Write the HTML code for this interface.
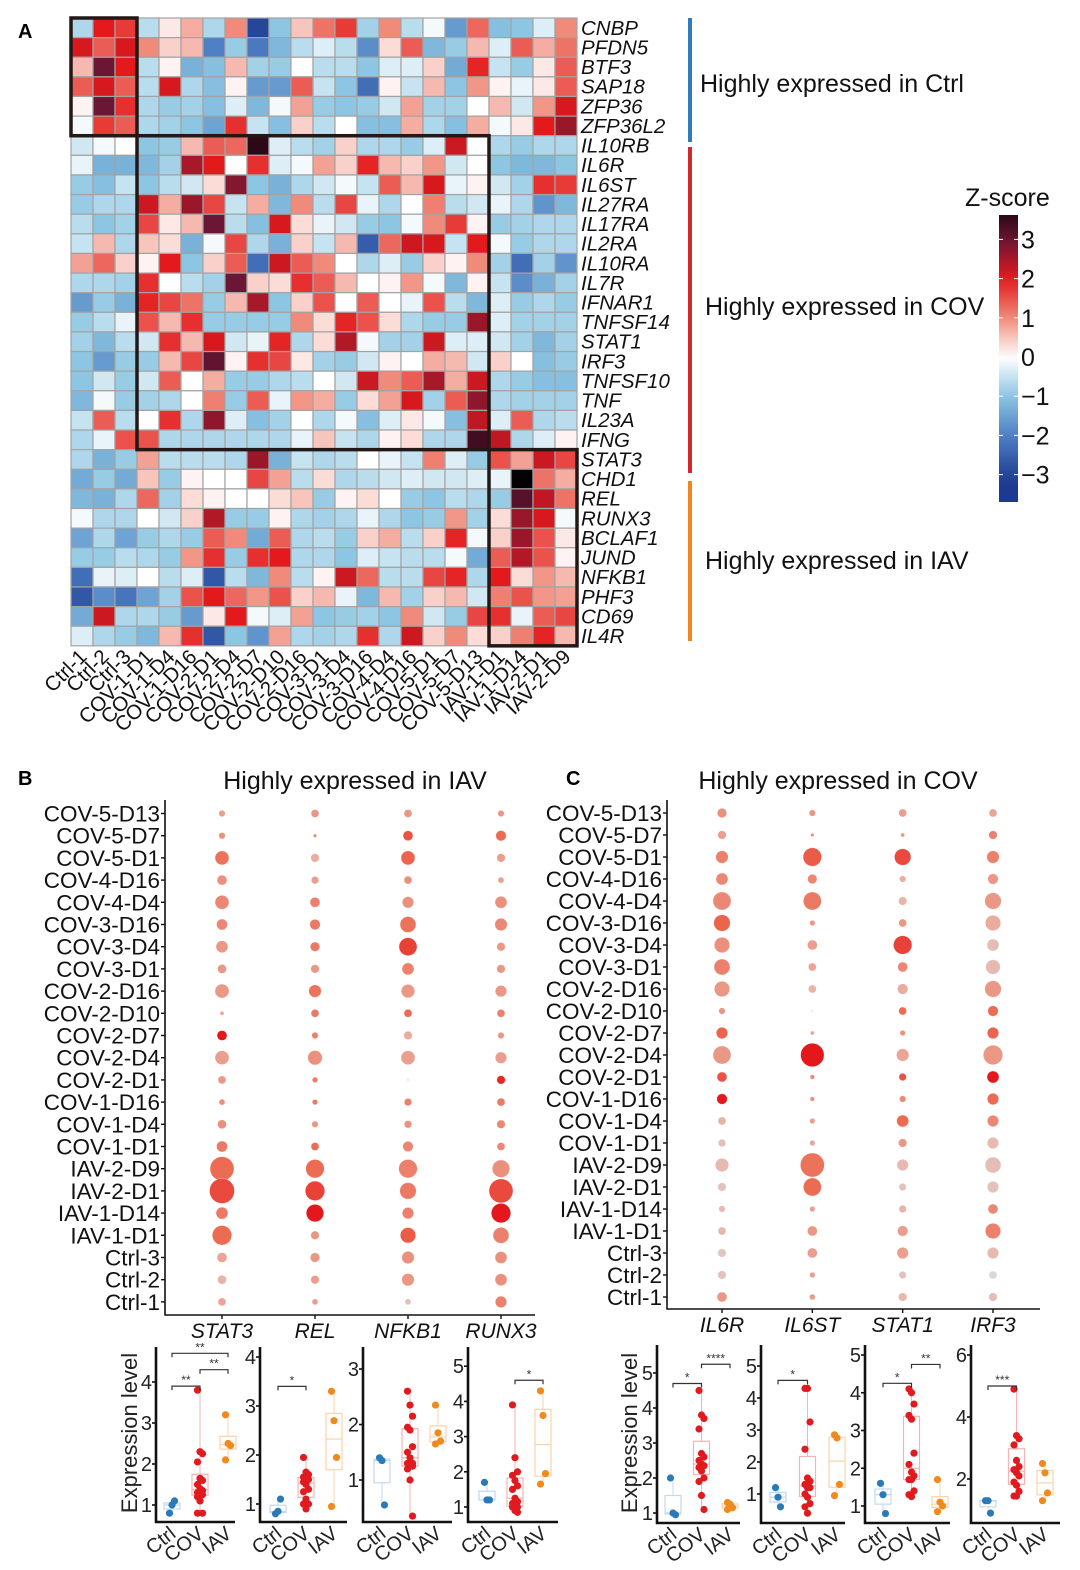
<!DOCTYPE html>
<html><head><meta charset="utf-8"><style>
html,body{margin:0;padding:0;background:#fff;}
svg{display:block;font-family:"Liberation Sans",Arial,sans-serif;}
</style></head><body>
<svg id="fig" width="1080" height="1570" viewBox="0 0 1080 1570" xmlns="http://www.w3.org/2000/svg">
<text x="18" y="38" font-size="20" font-weight="bold">A</text>
<text x="18" y="785" font-size="20" font-weight="bold">B</text>
<text x="566" y="785" font-size="20" font-weight="bold">C</text>
</svg>
<script>
// ---------- Heatmap data ----------
const genes=["CNBP","PFDN5","BTF3","SAP18","ZFP36","ZFP36L2","IL10RB","IL6R","IL6ST","IL27RA","IL17RA","IL2RA","IL10RA","IL7R","IFNAR1","TNFSF14","STAT1","IRF3","TNFSF10","TNF","IL23A","IFNG","STAT3","CHD1","REL","RUNX3","BCLAF1","JUND","NFKB1","PHF3","CD69","IL4R"];
const samples=["Ctrl-1","Ctrl-2","Ctrl-3","COV-1-D1","COV-1-D4","COV-1-D16","COV-2-D1","COV-2-D4","COV-2-D7","COV-2-D10","COV-2-D16","COV-3-D1","COV-3-D4","COV-3-D16","COV-4-D4","COV-4-D16","COV-5-D1","COV-5-D7","COV-5-D13","IAV-1-D1","IAV-1-D14","IAV-2-D1","IAV-2-D9"];
const zvals=[
[-0.7,2.0,1.7,-0.6,0.2,0.7,-0.7,1.0,-3.0,-1.0,0.5,1.2,1.7,-0.8,1.0,-0.6,-0.1,-1.6,1.3,-1.1,-1.0,-0.3,1.0],
[2.1,1.4,2.1,1.0,0.4,0.6,-2.0,-0.9,-2.1,-1.2,-0.6,-0.3,-0.6,-1.8,0.3,1.4,-1.2,-0.9,0.6,-0.3,1.4,0.7,1.2],
[0.6,3.0,2.0,-0.6,0.1,-1.3,-1.1,0.6,-0.8,-0.9,0.0,-0.6,-0.6,-1.0,-0.3,-0.3,0.4,-1.4,1.9,-0.5,-0.9,0.2,1.4],
[1.4,2.1,1.4,-0.6,2.1,-0.7,-1.1,0.1,-1.6,-1.6,1.4,-0.5,-1.0,-2.3,0.1,-0.5,0.6,-1.0,0.9,0.1,-0.2,0.2,1.4],
[0.1,3.0,1.8,-0.7,-0.9,-0.8,-1.1,-0.3,-1.2,-0.1,0.8,-0.9,-1.0,-0.9,-0.4,0.8,-0.8,-0.8,0.0,0.6,-0.4,0.9,2.1],
[-0.1,1.7,1.4,-0.7,-0.8,-1.0,-1.5,1.8,-0.5,-1.1,0.4,-0.6,0.0,-1.1,-1.1,0.7,-0.7,-1.1,0.7,-0.1,0.2,2.0,2.6],
[-0.4,-0.1,0.0,-1.0,-0.9,0.6,1.4,1.3,3.6,-0.3,-0.6,-0.8,0.4,-0.7,-0.7,-0.9,-0.3,2.2,0.0,-0.7,-0.9,-0.7,-0.7],
[-0.2,-1.3,-1.3,-1.2,-0.8,2.5,2.0,0.0,1.8,-0.3,-0.1,0.8,0.4,1.9,0.6,0.4,0.9,-0.4,0.0,-1.0,-1.2,-1.2,-1.0],
[-0.9,-1.1,-0.5,-1.0,-0.6,-0.4,0.3,2.8,-1.0,-1.3,-0.7,-0.4,-0.1,-0.5,1.4,0.6,2.1,-0.2,0.1,-0.4,-0.8,1.8,1.7],
[-0.9,-0.7,-0.7,2.2,0.7,2.6,1.6,-0.5,0.7,-1.2,1.0,-0.6,1.6,-0.2,-0.7,0.0,1.1,-0.6,-0.4,-0.2,-0.7,-1.7,-1.2],
[-0.6,-1.0,-0.8,1.6,0.2,0.6,3.0,-0.6,-1.1,2.1,0.3,-0.2,-0.4,-0.9,-1.0,-0.1,1.0,1.7,0.1,-0.9,-0.8,-0.7,-0.7],
[-0.5,0.6,-0.7,0.5,0.3,-1.3,-0.1,1.6,-0.7,-1.3,0.4,-0.5,0.6,-2.6,1.3,2.2,2.1,-0.5,2.0,-0.1,-0.9,-0.7,-0.7],
[0.8,1.3,0.4,0.1,2.0,-1.0,0.4,1.4,-2.3,2.2,1.4,1.0,0.0,-0.7,-0.3,-0.9,0.4,0.1,1.0,-0.8,-2.3,-0.8,-1.7],
[-0.7,-0.7,-0.8,1.8,0.0,-0.6,-0.8,3.0,0.4,0.3,1.8,1.4,0.6,0.0,0.1,0.9,-0.1,-1.2,0.1,-0.5,-1.8,-1.3,-0.8],
[-1.6,-0.9,-1.3,1.9,1.6,1.2,-0.9,0.6,2.5,-1.0,0.4,1.5,0.0,1.4,0.0,-0.2,1.5,-0.6,-1.2,-0.3,-0.9,-0.7,-0.9],
[-0.9,-0.6,-0.2,1.5,0.6,1.8,-0.9,-0.9,-0.9,-0.9,1.0,0.3,1.9,1.5,0.3,-0.7,-0.9,-0.9,2.6,-0.3,-0.8,-0.8,-0.8],
[-0.8,-1.2,-0.6,-0.4,1.8,0.6,2.1,-0.4,-0.2,1.9,-0.7,0.3,2.4,-0.1,-0.8,-0.8,2.2,-0.3,-0.3,-0.4,-0.8,-1.2,-0.8],
[-1.0,-1.6,-0.9,-0.9,0.6,1.6,3.1,0.1,1.8,1.6,0.2,-0.8,-0.9,-0.4,0.1,0.0,0.7,0.6,-0.4,0.4,0.0,-1.1,-0.9],
[-1.0,-0.4,-0.9,-0.4,1.4,0.0,0.7,-0.9,-0.9,-0.7,-0.6,0.0,-0.4,2.2,1.0,1.4,2.5,0.7,2.2,-0.7,-0.9,-1.1,-1.1],
[-1.2,-0.1,-0.9,-0.8,-0.7,0.0,1.1,-0.9,1.4,-0.2,0.9,0.7,-0.9,0.3,0.8,2.1,-0.8,1.4,2.7,-0.7,-0.8,-0.8,-0.8],
[-0.5,1.4,-0.6,0.0,1.8,-0.7,2.7,-0.3,-1.1,-0.8,0.0,-0.7,-0.1,-1.1,-0.3,0.2,-0.1,-1.1,2.3,-0.3,1.4,-0.7,-0.6],
[-0.7,-0.2,1.5,1.5,-0.7,-0.7,-0.7,-0.7,-0.7,-0.7,-0.2,0.5,-0.5,-0.7,0.1,0.3,-0.7,-0.7,3.4,2.3,-0.7,-0.3,0.1],
[-0.7,-1.3,-0.9,0.8,-0.6,-0.6,-0.6,-0.7,2.6,-1.3,-0.5,-0.7,-0.6,0.0,-0.2,-0.5,1.1,-0.3,-0.9,1.5,0.8,2.2,1.6],
[-1.4,-0.9,-1.4,0.5,-0.9,0.1,0.0,0.0,1.6,0.8,-0.6,0.3,-0.7,-0.6,-0.4,-0.3,-0.4,-0.4,-0.3,-0.2,4.0,1.2,0.7],
[-1.2,-1.3,-0.7,1.3,-0.8,0.3,0.1,0.0,0.0,0.3,0.5,-0.9,0.1,0.3,0.0,-0.9,-1.0,-0.6,-0.7,-0.9,3.2,2.3,1.2],
[-0.1,-0.7,-0.7,0.0,-0.4,0.4,2.4,-0.9,-0.9,0.1,-0.7,-0.8,-0.7,-0.2,-0.7,-1.0,-0.9,0.9,-0.8,0.3,2.6,2.1,-0.1],
[-1.5,-0.7,-1.5,-0.9,-0.7,-0.9,1.4,1.0,-1.4,1.4,-0.7,-0.6,-0.9,0.4,0.7,-0.6,0.4,1.9,-0.1,0.4,2.6,1.5,0.2],
[-0.9,-0.9,-0.6,-0.7,-0.9,0.9,1.8,-0.9,1.8,2.0,-0.7,-0.7,-1.0,-0.3,-0.5,-0.6,-0.6,-0.1,-1.4,1.4,2.4,1.5,0.1],
[-2.3,-0.2,-0.3,0.0,-0.6,-0.3,-2.7,-0.6,-1.2,1.0,-0.6,0.1,2.2,1.3,-0.6,-0.6,1.6,1.9,-0.7,2.0,0.3,0.9,0.6],
[-2.7,-1.8,-2.2,-1.5,-0.8,1.5,2.0,1.3,0.9,1.5,0.4,0.6,-0.2,-1.2,0.6,-0.8,0.4,0.6,-0.4,1.1,1.5,0.9,0.8],
[-1.4,2.2,-0.7,-0.7,-0.9,-1.6,0.2,2.0,-0.1,-0.3,0.8,-1.0,-0.9,-0.8,-1.0,1.0,-0.4,-0.9,1.6,1.8,-0.2,1.4,1.6],
[-0.3,-0.7,-0.9,-1.2,0.6,1.8,-2.7,-1.0,-1.7,0.8,-0.7,-0.8,-0.7,1.8,-0.7,2.2,0.4,1.0,0.3,0.4,1.1,1.9,0.6]
];
const zTicks=[3,2,1,0,-1,-2,-3];
const zTickLabels=["3","2","1","0","\u22121","\u22122","\u22123"];
// ---------- Dot plot data (B and C) ----------
const dotRows=["COV-5-D13","COV-5-D7","COV-5-D1","COV-4-D16","COV-4-D4","COV-3-D16","COV-3-D4","COV-3-D1","COV-2-D16","COV-2-D10","COV-2-D7","COV-2-D4","COV-2-D1","COV-1-D16","COV-1-D4","COV-1-D1","IAV-2-D9","IAV-2-D1","IAV-1-D14","IAV-1-D1","Ctrl-3","Ctrl-2","Ctrl-1"];
const genesB=["STAT3","REL","NFKB1","RUNX3"];
const genesC=["IL6R","IL6ST","STAT1","IRF3"];
const pctB_STAT3=[26,26,56,40,56,44,48,36,56,16,40,56,32,24,36,44,96,100,48,78,40,36,32];
const avgB_STAT3=[0.3,0.5,0.9,0.5,0.6,0.6,0.4,0.4,0.4,0.2,2.0,0.3,0.4,0.5,0.5,0.8,1.0,1.4,0.8,1.0,0.2,0.0,0.2];
const pctB_REL=[32,14,34,30,40,42,38,34,50,32,26,58,22,22,26,32,74,78,70,34,38,34,24];
const avgB_REL=[0.4,0.6,0.1,0.3,0.7,0.8,0.8,0.4,0.9,0.8,0.7,0.5,0.8,0.8,0.4,1.0,1.0,1.5,2.0,0.4,0.4,0.3,0.3];
const pctB_NFKB1=[32,40,56,32,46,64,72,48,54,32,34,56,8,30,30,42,74,66,46,62,50,50,24];
const avgB_NFKB1=[0.4,1.3,1.1,0.5,0.5,0.9,1.5,0.7,0.4,1.0,0.1,0.3,-0.8,0.7,0.5,0.6,0.7,0.8,0.7,1.2,0.5,0.4,-0.3];
const pctB_RUNX3=[26,42,34,24,48,50,34,34,46,32,26,46,34,32,34,32,70,96,78,64,48,48,46];
const avgB_RUNX3=[0.4,1.0,0.3,0.3,0.5,0.6,0.4,0.4,0.4,0.7,0.4,0.3,1.8,0.8,0.6,0.6,0.5,1.4,2.0,0.7,0.5,0.5,0.7];
const pctC_IL6R=[38,34,50,48,72,66,62,64,62,26,46,72,40,42,32,30,54,34,26,32,34,34,40];
const avgC_IL6R=[0.5,0.3,0.7,0.6,0.6,1.1,0.5,0.7,0.4,0.4,1.1,0.4,1.3,2.0,0.0,-0.3,-0.2,-0.4,-0.2,-0.1,-0.5,-0.4,0.4];
const pctC_IL6ST=[26,14,74,38,72,22,40,32,32,6,16,94,18,18,22,22,96,72,22,40,40,22,24];
const avgC_IL6ST=[0.4,0.5,1.2,0.6,0.8,0.4,0.3,0.2,0.0,0.0,0.2,2.0,0.6,0.5,0.3,0.2,0.9,1.0,0.3,0.4,0.3,0.3,0.3];
const pctC_STAT1=[32,16,66,26,34,32,74,40,42,32,22,50,30,26,48,34,46,30,30,42,46,30,34];
const avgC_STAT1=[0.3,0.4,1.4,0.1,-0.1,0.4,1.5,0.6,0.1,1.0,0.5,0.2,1.3,0.6,1.0,0.4,-0.2,-0.4,0.0,0.3,0.3,-0.4,-0.1];
const pctC_IRF3=[32,34,50,42,66,62,48,58,66,42,46,78,48,46,46,46,64,46,40,62,46,32,34];
const avgC_IRF3=[0.2,0.7,0.7,0.4,0.4,0.1,-0.3,-0.2,0.4,1.0,1.1,0.4,2.0,1.0,0.6,-0.2,-0.3,-0.4,0.6,0.7,-0.2,-1.0,-0.3];
// ---------- Box plot data ----------
const boxGroups=["Ctrl","COV","IAV"];
const bx_STAT3_ctrl=[0.8,1.0,1.1];
const bx_STAT3_cov=[3.8,2.3,2.25,2.05,1.65,1.6,1.5,1.4,1.35,1.3,1.3,1.25,1.2,1.1,0.8,0.8];
const bx_STAT3_iav=[3.2,2.5,2.45,2.1];
const bx_REL_ctrl=[0.8,0.85,1.1];
const bx_REL_cov=[1.95,1.65,1.6,1.55,1.5,1.5,1.45,1.4,1.3,1.25,1.1,1.0,1.0,0.9];
const bx_REL_iav=[3.3,2.7,1.95,0.95];
const bx_NFKB1_ctrl=[1.4,1.35,0.55];
const bx_NFKB1_cov=[2.6,2.35,2.15,1.95,1.9,1.6,1.5,1.4,1.3,1.3,1.25,1.25,1.2,1.0,0.35];
const bx_NFKB1_iav=[2.35,1.85,1.7,1.65];
const bx_RUNX3_ctrl=[1.7,1.2,1.2];
const bx_RUNX3_cov=[3.9,2.4,2.0,1.9,1.75,1.6,1.5,1.25,1.15,1.1,1.05,1.0,1.0,0.9,0.85];
const bx_RUNX3_iav=[4.3,3.6,1.95,1.65];
const bx_IL6R_ctrl=[2.0,1.0,0.95];
const bx_IL6R_cov=[4.5,3.8,3.7,3.4,2.7,2.6,2.5,2.4,2.35,2.3,2.2,2.0,1.9,1.5,1.1];
const bx_IL6R_iav=[1.3,1.25,1.15,1.1];
const bx_IL6ST_ctrl=[1.2,0.9,0.6];
const bx_IL6ST_cov=[4.3,4.3,3.25,2.4,1.5,1.4,1.3,1.2,1.2,1.0,0.9,0.7,0.6,0.4];
const bx_IL6ST_iav=[2.85,2.75,1.3,0.95];
const bx_STAT1_ctrl=[1.6,1.3,0.8];
const bx_STAT1_cov=[4.1,4.0,3.7,3.4,3.3,2.4,2.1,1.9,1.8,1.7,1.7,1.4,1.3,1.25];
const bx_STAT1_iav=[1.7,1.1,1.0,0.85];
const bx_IRF3_ctrl=[1.3,1.3,0.9];
const bx_IRF3_cov=[4.9,3.4,3.3,3.1,2.6,2.4,2.3,2.2,2.1,1.9,1.8,1.6,1.45,1.45];
const bx_IRF3_iav=[2.5,2.2,1.55,1.3];
const ticks_STAT3=[1,2,3,4], ticks_REL=[1,2,3,4], ticks_NFKB1=[1,2,3], ticks_RUNX3=[1,2,3,4,5];
const ticks_IL6R=[1,2,3,4,5], ticks_IL6ST=[1,2,3,4,5], ticks_STAT1=[1,2,3,4,5], ticks_IRF3=[2,4,6];
const sig_STAT3=[[0,1,3.9,"**"],[1,2,4.3,"**"],[0,2,4.7,"**"]];
const sig_REL=[[0,1,3.4,"*"]];
const sig_NFKB1=[];
const sig_RUNX3=[[1,2,4.6,"*"]];
const sig_IL6R=[[0,1,4.7,"*"],[1,2,5.25,"****"]];
const sig_IL6ST=[[0,1,4.55,"*"]];
const sig_STAT1=[[0,1,4.25,"*"],[1,2,4.75,"**"]];
const sig_IRF3=[[0,1,5.0,"***"]];

const NS="http://www.w3.org/2000/svg";
const svg=document.getElementById("fig");
function mk(tag,attrs,parent){const e=document.createElementNS(NS,tag);for(const k in attrs)e.setAttribute(k,attrs[k]);(parent||svg).appendChild(e);return e;}
function hex(c){return [parseInt(c.slice(1,3),16),parseInt(c.slice(3,5),16),parseInt(c.slice(5,7),16)];}
function interp(stops,v){if(v<=stops[0][0])return stops[0][1];if(v>=stops[stops.length-1][0])return stops[stops.length-1][1];
 for(let i=0;i<stops.length-1;i++){const a=stops[i],b=stops[i+1];if(v>=a[0]&&v<=b[0]){const t=(v-a[0])/(b[0]-a[0]);const ca=hex(a[1]),cb=hex(b[1]);
 return "rgb("+ca.map((x,j)=>Math.round(x+(cb[j]-x)*t)).join(",")+")";}}}
const zStops=[[-3.2,"#1c3a90"],[-2,"#4f7fc4"],[-1,"#8cc6e2"],[0,"#ffffff"],[1,"#f08a7a"],[2,"#e3191c"],[3,"#6a1634"],[4,"#050003"]];

// ---------- Panel A ----------
const hx0=71,hy0=18,cw=22,rh=19.62;
const hmX=i=>hx0+i*cw, hmY=j=>hy0+j*rh;
const hm=mk("g",{});


zvals.forEach((row,j)=>row.forEach((v,i)=>{
 const r=mk("rect",{x:hmX(i),y:hmY(j),width:cw,height:rh,fill:interp(zStops,v),stroke:"#a3a3a3","stroke-width":1.2},hm);
 
 
}));
[[0,0,3,6],[3,6,19,22],[19,22,23,32]].forEach(b=>{
 const r=mk("rect",{x:hmX(b[0]),y:hmY(b[1]),width:hmX(b[2])-hmX(b[0]),height:hmY(b[3])-hmY(b[1]),fill:"none",stroke:"#231815","stroke-width":3.5});
 
 
});
genes.forEach((g,j)=>{
 const t=mk("text",{x:581,y:hmY(j)+rh/2+7,"font-size":20.5,"font-style":"italic",fill:"#111"});t.textContent=g;
 
 
});
samples.forEach((s,i)=>{
 const cx=hmX(i)+cw/2+6, cy=658;
 const t=mk("text",{x:cx,y:cy,"font-size":20.5,"text-anchor":"end",transform:`rotate(-45 ${cx} ${cy})`,fill:"#111"});t.textContent=s;
 
 
});
[[18,142,"#2e7dbb","Highly expressed in Ctrl",700,92],[147,473,"#d6282a","Highly expressed in COV",705,315],[481,641,"#ef8523","Highly expressed in IAV",705,569]].forEach(a=>{
 const l=mk("rect",{x:688,y:a[0],width:4,height:a[1]-a[0],fill:a[2]});
 
 
 const t=mk("text",{x:a[4],y:a[5],"font-size":25,fill:"#111"});t.textContent=a[3];
 
 
});
const cbTop=215,cbBot=502,cbZ0=357,cbU=39.2;
const cbY=v=>cbZ0-v*cbU;
const defs=mk("defs",{});
const lg=mk("linearGradient",{id:"zg",x1:0,y1:1,x2:0,y2:0},defs);
for(let k=0;k<=20;k++){const v=(cbZ0-cbBot)/cbU+k*((cbBot-cbTop)/cbU)/20;mk("stop",{offset:k/20,"stop-color":interp(zStops,v)},lg);}
const cb=mk("rect",{x:999,y:cbTop,width:19,height:cbBot-cbTop,fill:"url(#zg)"});


const zt=mk("text",{x:965,y:206,"font-size":25,fill:"#111"});zt.textContent="Z-score";


zTicks.forEach((v,k)=>{
 mk("line",{x1:999,x2:1003,y1:cbY(v),y2:cbY(v),stroke:"#fff","stroke-width":1});
 mk("line",{x1:1014,x2:1018,y1:cbY(v),y2:cbY(v),stroke:"#fff","stroke-width":1});
 const t=mk("text",{x:1021,y:cbY(v)+9,"font-size":25,fill:"#111"});t.textContent=zTickLabels[k];
 
 
});

// ---------- Dot plots ----------
const dotStops=[[-1,"#d8d8d8"],[0,"#e9b3a7"],[1,"#ec6c53"],[2,"#e4171c"]];
function dotPlot(p){
 const g=mk("g",{});
 
 
 const rowY=k=>p.y0+k*p.dy;
 const colX=k=>p.cols[0]+k*(p.cols[1]-p.cols[0])/3;
 mk("path",{d:`M${p.ax} ${p.top} V${p.bot} H${p.right}`,fill:"none",stroke:"#111","stroke-width":1.6},g);
 const t=mk("text",{x:p.titleX,y:789,"font-size":25,"text-anchor":"middle",fill:"#111"},g);t.textContent=p.title;
 
 
 dotRows.forEach((r,k)=>{
  mk("line",{x1:p.ax-4,x2:p.ax,y1:rowY(k),y2:rowY(k),stroke:"#111","stroke-width":1.4},g);
  const l=mk("text",{x:p.ax-5,y:rowY(k)+8,"font-size":22.5,"text-anchor":"end",fill:"#111"},g);l.textContent=r;
  
  
 });
 p.genes.forEach((gn,c)=>{
  mk("line",{x1:colX(c),x2:colX(c),y1:p.bot,y2:p.bot+4,stroke:"#111","stroke-width":1.4},g);
  const l=mk("text",{x:colX(c),y:p.bot+23,"font-size":21,"font-style":"italic","text-anchor":"middle",fill:"#111"},g);l.textContent=gn;
  
  
  p.pct[c].forEach((v,k)=>{
   const d=mk("circle",{cx:colX(c),cy:rowY(k),r:v/8,fill:interp(dotStops,p.avg[c][k]),stroke:"#fff","stroke-width":0.5,"stroke-opacity":0.6},g);
   
   
  });
 });
}
dotPlot({name:"dotplot-iav",ax:165,right:535,top:800,bot:1315,y0:813.5,dy:22.2,cols:[222,501],titleX:355,title:"Highly expressed in IAV",genes:genesB,
 pct:[pctB_STAT3,pctB_REL,pctB_NFKB1,pctB_RUNX3],avg:[avgB_STAT3,avgB_REL,avgB_NFKB1,avgB_RUNX3]});
dotPlot({name:"dotplot-cov",ax:667,right:1040,top:800,bot:1309,y0:813,dy:22.0,cols:[722,993],titleX:838,title:"Highly expressed in COV",genes:genesC,
 pct:[pctC_IL6R,pctC_IL6ST,pctC_STAT1,pctC_IRF3],avg:[avgC_IL6R,avgC_IL6ST,avgC_STAT1,avgC_IRF3]});

// ---------- Box plots ----------
const ptCol=["#2a7ab8","#e01a1e","#f08a1d"], boxCol=["#c2d8ee","#f6b3b3","#fcd3a8"];
function q(arr,p){const s=[...arr].sort((a,b)=>a-b);const i=(s.length-1)*p;const lo=Math.floor(i),hi=Math.ceil(i);return s[lo]+(s[hi]-s[lo])*(i-lo);}
function boxPlot(p){
 const g=mk("g",{});
 
 
 const Y=v=>p.yRef-(v-p.vRef)*p.unit;
 const X=k=>p.gx[0]+k*(p.gx[1]-p.gx[0])/2;
 mk("path",{d:`M${p.ax} ${p.top} V${p.bot} H${p.right}`,fill:"none",stroke:"#111","stroke-width":2.6},g);
 p.ticks.forEach(v=>{
  mk("line",{x1:p.ax-4,x2:p.ax,y1:Y(v),y2:Y(v),stroke:"#111","stroke-width":1.6},g);
  const t=mk("text",{x:p.ax-4,y:Y(v)+7,"font-size":20,"text-anchor":"end",fill:"#222"},g);t.textContent=v;
  
  
 });
 p.data.forEach((arr,k)=>{
  const x=X(k),q1=q(arr,0.25),q3=q(arr,0.75),md=q(arr,0.5),mn=Math.min(...arr),mx=Math.max(...arr);
  mk("line",{x1:x,x2:x,y1:Y(mx),y2:Y(mn),stroke:boxCol[k],"stroke-width":1},g);
  const b=mk("rect",{x:x-8,y:Y(q3),width:16,height:Math.max(1,Y(q1)-Y(q3)),fill:"#fff",stroke:boxCol[k],"stroke-width":1.2},g);
  
  
  mk("line",{x1:x-8,x2:x+8,y1:Y(md),y2:Y(md),stroke:boxCol[k],"stroke-width":1.2},g);
  arr.forEach((v,i)=>{
   const c=mk("circle",{cx:x+((i%3)-1)*2.5,cy:Y(v),r:3.6,fill:ptCol[k]},g);
   
   
  });
  const lx=x+5,ly=p.bot+14;
  const t=mk("text",{x:lx,y:ly,"font-size":20,"text-anchor":"end",transform:`rotate(-38 ${lx} ${ly})`,fill:"#222"},g);
  t.textContent=boxGroups[k];
  
  
 });
 p.sig.forEach(s=>{
  const y=Y(s[2]);
  mk("path",{d:`M${X(s[0])} ${y+4} V${y} H${X(s[1])} V${y+4}`,fill:"none",stroke:"#333","stroke-width":1.2},g);
  const t=mk("text",{x:(X(s[0])+X(s[1]))/2,y:y-2,"font-size":12,"text-anchor":"middle",fill:"#333"},g);t.textContent=s[3];
  
  
 });
}
boxPlot({name:"boxplot-stat3",ax:156,right:235,top:1347,bot:1522,yRef:1505,vRef:1,unit:41,gx:[172,228],ticks:ticks_STAT3,data:[bx_STAT3_ctrl,bx_STAT3_cov,bx_STAT3_iav],sig:sig_STAT3});
boxPlot({name:"boxplot-rel",ax:260,right:347,top:1347,bot:1522,yRef:1504,vRef:1,unit:49,gx:[278,334],ticks:ticks_REL,data:[bx_REL_ctrl,bx_REL_cov,bx_REL_iav],sig:sig_REL});
boxPlot({name:"boxplot-nfkb1",ax:363,right:452,top:1347,bot:1522,yRef:1480,vRef:1,unit:55.5,gx:[382,438],ticks:ticks_NFKB1,data:[bx_NFKB1_ctrl,bx_NFKB1_cov,bx_NFKB1_iav],sig:sig_NFKB1});
boxPlot({name:"boxplot-runx3",ax:468,right:558,top:1347,bot:1522,yRef:1507,vRef:1,unit:35.2,gx:[487,543],ticks:ticks_RUNX3,data:[bx_RUNX3_ctrl,bx_RUNX3_cov,bx_RUNX3_iav],sig:sig_RUNX3});
boxPlot({name:"boxplot-il6r",ax:657,right:740,top:1345,bot:1523,yRef:1513,vRef:1,unit:35,gx:[673,730],ticks:ticks_IL6R,data:[bx_IL6R_ctrl,bx_IL6R_cov,bx_IL6R_iav],sig:sig_IL6R});
boxPlot({name:"boxplot-il6st",ax:761,right:845,top:1345,bot:1523,yRef:1494,vRef:1,unit:32,gx:[778,837],ticks:ticks_IL6ST,data:[bx_IL6ST_ctrl,bx_IL6ST_cov,bx_IL6ST_iav],sig:sig_IL6ST});
boxPlot({name:"boxplot-stat1",ax:865,right:950,top:1345,bot:1523,yRef:1506,vRef:1,unit:37.75,gx:[883,940],ticks:ticks_STAT1,data:[bx_STAT1_ctrl,bx_STAT1_cov,bx_STAT1_iav],sig:sig_STAT1});
boxPlot({name:"boxplot-irf3",ax:971,right:1060,top:1345,bot:1523,yRef:1479,vRef:2,unit:31,gx:[988,1045],ticks:ticks_IRF3,data:[bx_IRF3_ctrl,bx_IRF3_cov,bx_IRF3_iav],sig:sig_IRF3});
[[137,1433],[637,1433]].forEach(p=>{
 const t=mk("text",{x:p[0],y:p[1],"font-size":22,"text-anchor":"middle",transform:`rotate(-90 ${p[0]} ${p[1]})`,fill:"#222"});
 t.textContent="Expression level";
 
 
});
</script>
</body></html>
